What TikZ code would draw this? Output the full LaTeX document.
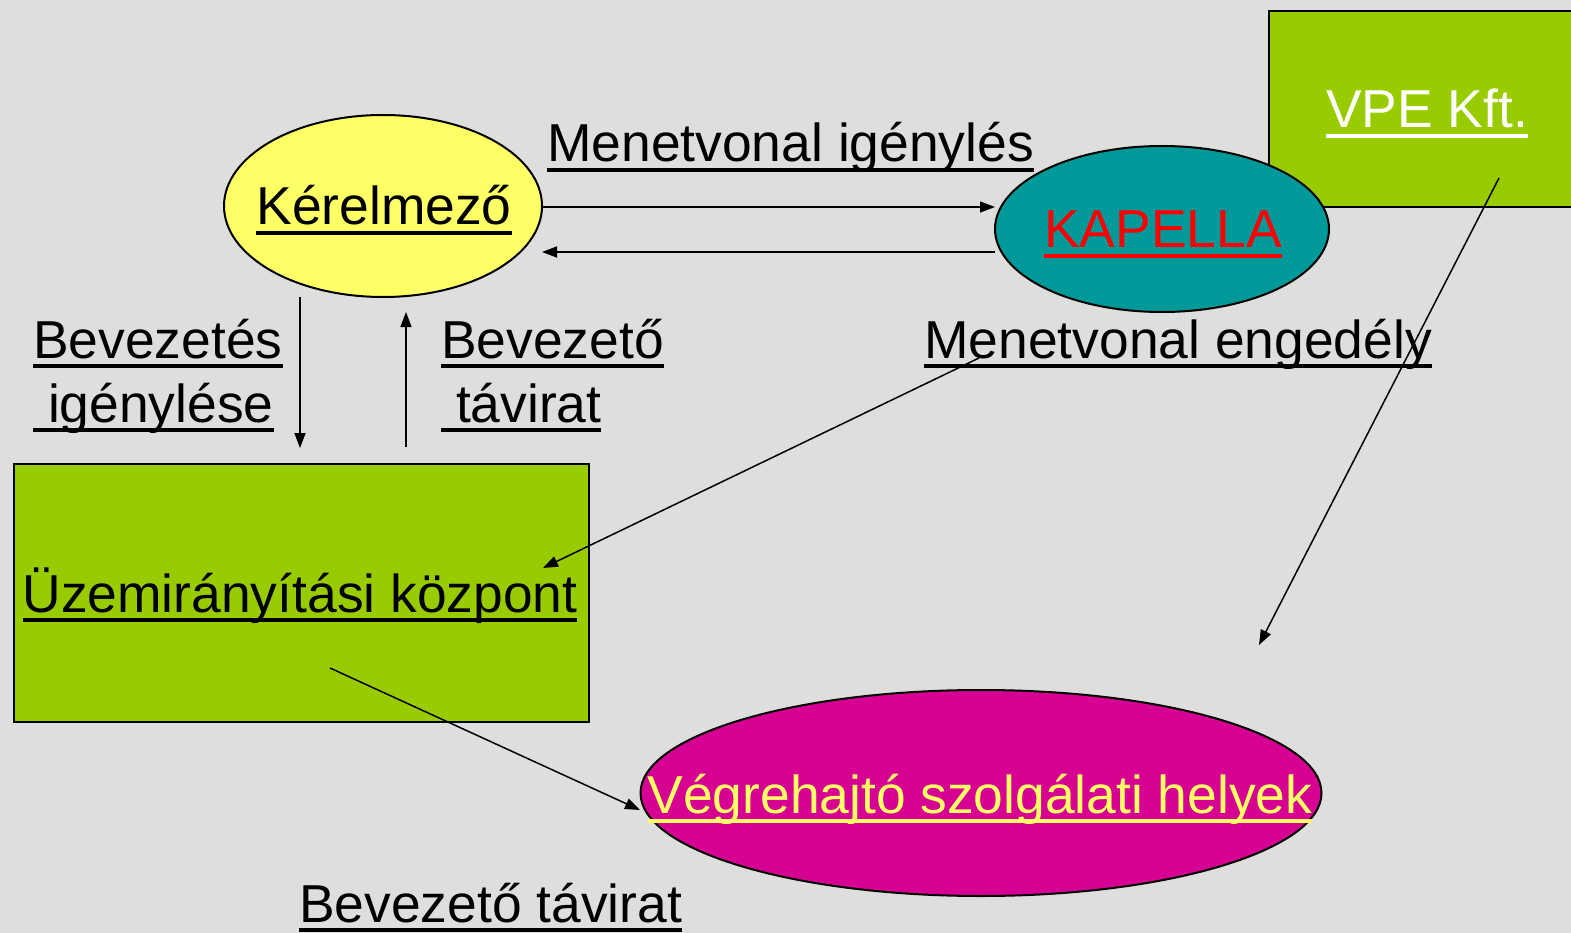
\documentclass[tikz,border=0pt]{standalone}
\usepackage{fontspec}
\setmainfont{Liberation Sans}
\usetikzlibrary{shapes.geometric,arrows.meta}
\newcommand\myul[1]{\setbox0\hbox{#1}\rlap{\rule[-0.18em]{\wd0}{0.065em}}\box0}
\newcommand\twolines[2]{\vtop{\baselineskip=64pt\lineskiplimit=-100pt\hbox{\myul{#1}}\hbox{\myul{#2}}}}
\definecolor{bg}{RGB}{222,222,220}
\definecolor{yel}{RGB}{255,255,102}
\definecolor{teal2}{RGB}{0,153,153}
\definecolor{grn}{RGB}{153,204,0}
\definecolor{mag}{RGB}{214,0,147}
\tikzset{
  txt/.style={inner sep=0pt, font=\fontsize{53.4}{64}\selectfont},
  oval/.style={ellipse, draw=black, line width=2pt, inner sep=0pt},
  boxx/.style={rectangle, draw=black, line width=2pt, inner sep=0pt},
  conn/.style={line width=1.5pt, -{Triangle[length=15pt,width=11pt]}}
}
\begin{document}
\begin{tikzpicture}[x=1pt,y=-1pt]
\useasboundingbox (0,0) rectangle (1571,933);
\fill[bg] (0,0) rectangle (1571,933);
\clip (0,0) rectangle (1571,933);
% shapes
\node[boxx, fill=grn, minimum width=320pt, minimum height=196pt, anchor=north west] (vpe) at (1268,10) {};
\node[oval, fill=yel, minimum width=318pt, minimum height=182pt] (ker) at (383,206) {};
\node[oval, fill=teal2, minimum width=334pt, minimum height=166pt] (kap) at (1162,229) {};
\node[boxx, fill=grn, minimum width=575pt, minimum height=258pt, anchor=north west] (uzem) at (12.5,463) {};
\node[oval, fill=mag, minimum width=681pt, minimum height=206pt] (veg) at (981,793) {};
% texts in shapes
\node[txt, anchor=base] (kert) at (384,225) {\myul{Kérelmező}};
\node[txt, anchor=base, text=red] (kapt) at (1163,248) {\myul{KAPELLA}};
\node[txt, anchor=base, text=white] (vpet) at (1427,128) {\myul{VPE Kft.}};
\node[txt, anchor=base] (uzemt) at (300,612) {\myul{Üzemirányítási központ}};
\node[txt, anchor=base, text=yel] (vegt) at (980,813) {\myul{Végrehajtó szolgálati helyek}};
% labels
\node[txt, anchor=base west] (l1) at (547,162) {\myul{Menetvonal igénylés}};
\node[txt, anchor=base west] (l2) at (33,358) {\twolines{Bevezetés}{\ igénylése}};
\node[txt, anchor=base west] (l3) at (441,358) {\twolines{Bevezető}{\ távirat}};
\node[txt, anchor=base west] (l4) at (924,358) {\myul{Menetvonal engedély}};
\node[txt, anchor=base west] (l5) at (299,922) {\myul{Bevezető távirat}};
% connector end points
\coordinate (a1s) at (542,207);
\coordinate (a1e) at (995,207);
\coordinate (a2s) at (995,252);
\coordinate (a2e) at (542,252);
\coordinate (d1s) at (300,297);
\coordinate (d1e) at (300,448);
\coordinate (u1s) at (406,447);
\coordinate (u1e) at (406,312);
\coordinate (m1s) at (979,358);
\coordinate (m1e) at (543,568);
\coordinate (v1s) at (1499,178);
\coordinate (v1e) at (1259,645);
\coordinate (z1s) at (330,668);
\coordinate (z1e) at (640,810);
% connectors
\draw[conn] (a1s) -- (a1e);
\draw[conn] (a2s) -- (a2e);
\draw[conn] (d1s) -- (d1e);
\draw[conn] (u1s) -- (u1e);
\draw[conn] (m1s) -- (m1e);
\draw[conn] (v1s) -- (v1e);
\draw[conn] (z1s) -- (z1e);
\end{tikzpicture}
\end{document}
